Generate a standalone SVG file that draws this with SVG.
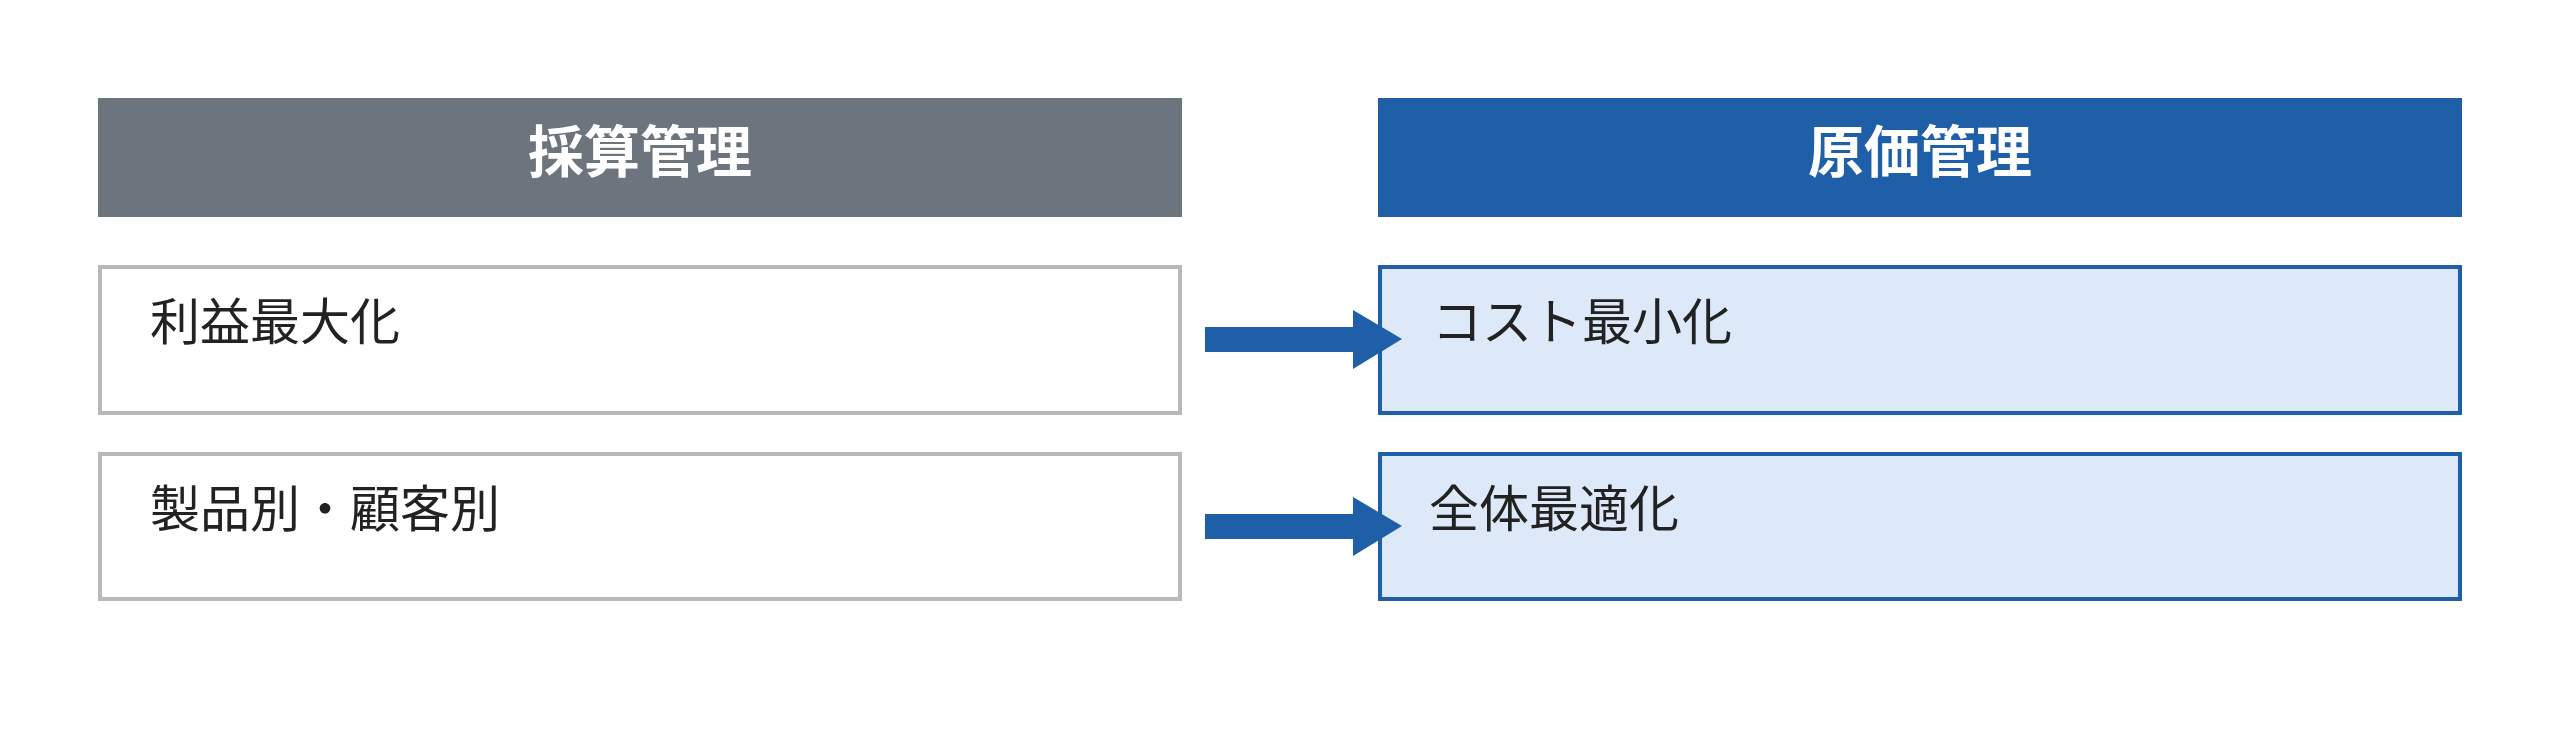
<svg xmlns="http://www.w3.org/2000/svg" width="2560" height="738" viewBox="0 0 2560 738">
<style>
.h{font-family:"Noto Sans CJK JP",sans-serif;font-weight:bold;font-size:56px;fill:#fff;text-anchor:middle}
.t{font-family:"Noto Sans CJK JP",sans-serif;font-size:50px;fill:#222}
.l{fill:#fff;stroke:#b8b8b8;stroke-width:4}
.r{fill:#dde9f8;stroke:#1f5fa8;stroke-width:4}
.a{fill:#1f5fa8}
</style>
<rect width="2560" height="738" fill="#fff"/>
<g id="h1"><rect x="98" y="98" width="1084" height="119" fill="#6c747d"/><text class="h" x="640" y="172">採算管理</text></g>
<g id="h2"><rect x="1378" y="98" width="1084" height="119" fill="#1f5fa8"/><text class="h" x="1920" y="172">原価管理</text></g>
<g id="l1"><rect class="l" x="100" y="267" width="1080" height="146"/><text class="t" x="150" y="340">利益最大化</text></g>
<g id="l2"><rect class="l" x="100" y="454" width="1080" height="145"/><text class="t" x="150" y="527">製品別・顧客別</text></g>
<g id="r1"><rect class="r" x="1380" y="267" width="1080" height="146"/><text class="t" x="1432" y="340">コスト最小化</text></g>
<g id="r2"><rect class="r" x="1380" y="454" width="1080" height="145"/><text class="t" x="1429" y="527">全体最適化</text></g>
<g id="connectors">
<polygon class="a" points="1205,327 1353,327 1353,310 1402,339 1353,369 1353,352 1205,352"/>
<polygon class="a" points="1205,514 1353,514 1353,497 1402,526 1353,556 1353,539 1205,539"/>
</g>
</svg>
